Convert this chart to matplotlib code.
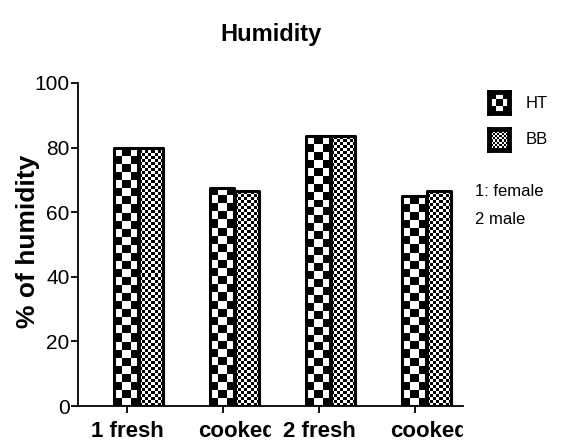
import numpy as np
import matplotlib
matplotlib.use('Agg')
import matplotlib.pyplot as plt
import matplotlib.transforms as mtransforms
from matplotlib import font_manager

groups = ['1 fresh', 'cooked', '2 fresh', 'cooked']
ht = [79.8, 67.5, 83.5, 65.0]
bb = [80.0, 66.5, 83.5, 66.5]
series = ['HT', 'BB']
note = ['1: female', '2 male']
yticks = [0, 20, 40, 60, 80, 100]

names = {f.name for f in font_manager.fontManager.ttflist}
narrow = 'Liberation Sans Narrow' in names
thin_font = 'Liberation Sans Narrow' if narrow else 'Liberation Sans'
plt.rcParams['font.family'] = ['Liberation Sans', 'DejaVu Sans']

W, H = 564, 443
fig = plt.figure(figsize=(W / 100, H / 100), dpi=100)
ax = fig.add_axes([78 / W, 1 - 406 / H, (463 - 78) / W, (406 - 83) / H])

x = np.arange(len(groups))
ax.set_xlim(-0.51, 3.5)
ax.set_ylim(0, 100)


def checker_fill(ax, bar, cell_px):
    x0, y0 = bar.get_x(), bar.get_y()
    w, h = bar.get_width(), bar.get_height()
    (px0, py0), (px1, py1) = ax.transData.transform([(x0, y0), (x0 + w, y0 + h)])
    nx = max(1, int(round((px1 - px0) / cell_px)))
    ny = max(1, int(round((py1 - py0) / cell_px)))
    board = np.indices((ny, nx)).sum(axis=0) % 2
    im = ax.imshow(board, cmap='gray', vmin=0, vmax=1, origin='lower',
                   extent=(x0, x0 + w, y0, y0 + h), aspect='auto',
                   interpolation='nearest', zorder=2)
    im.set_clip_path(bar)


width = 0.25
bars_ht = ax.bar(x - 0.013, ht, width, facecolor='none', edgecolor='black',
                 linewidth=2.2, joinstyle='round', zorder=3)
bars_bb = ax.bar(x + 0.253, bb, width, facecolor='none', edgecolor='black',
                 linewidth=2.2, joinstyle='round', zorder=3)
for b in bars_ht:
    checker_fill(ax, b, 8)
for b in bars_bb:
    checker_fill(ax, b, 3)
ax.set_xlim(-0.51, 3.5)
ax.set_ylim(0, 100)

for s in ['top', 'right']:
    ax.spines[s].set_visible(False)
for s in ['left', 'bottom']:
    ax.spines[s].set_linewidth(1.3)
ax.set_yticks(yticks)
ax.set_yticklabels([str(v) for v in yticks], family=thin_font,
                   fontsize=17 if narrow else 15)
ax.tick_params(axis='y', length=5, width=1.3, pad=1)
ax.set_xticks(x)
ax.set_xticklabels([])
ax.tick_params(axis='x', length=5, width=1.3)

# group labels under the axis; the "cooked" boxes cut off the text
base = mtransforms.blended_transform_factory(ax.transData, ax.transAxes)
for i, label in enumerate(groups):
    tx, _ = ax.transData.transform((x[i], 0))
    if label.startswith('cooked'):
        off = mtransforms.ScaledTranslation(-25 / 100, 0, fig.dpi_scale_trans)
        t = ax.text(x[i], -31 / 323, label, transform=base + off, ha='left',
                    va='baseline', fontsize=16, fontweight='bold', clip_on=True)
        t.set_clip_box(mtransforms.Bbox([[tx - 35, 0], [tx + 48, H]]))
    else:
        ax.text(x[i], -31 / 323, label, transform=base, ha='center',
                va='baseline', fontsize=16, fontweight='bold', clip_on=False)

fig.text(28 / W, 1 - 241 / H, '% of humidity', rotation=90, ha='center',
         va='center', fontsize=19, fontweight='bold')
fig.text(271 / W, 1 - 41 / H, 'Humidity', ha='center', va='baseline',
         fontsize=17, fontweight='bold')

# legend swatches
for name, top, cell in [(series[0], 92, 6), (series[1], 129, 2)]:
    lax = fig.add_axes([489 / W, 1 - (top + 21) / H, 20 / W, 21 / H])
    n = int(round(20 / cell))
    board = np.indices((n, n)).sum(axis=0) % 2
    lax.imshow(board, cmap='gray', vmin=0, vmax=1, aspect='auto',
               interpolation='nearest')
    lax.set_xticks([])
    lax.set_yticks([])
    for sp in lax.spines.values():
        sp.set_linewidth(3.5)
    fig.text(526 / W, 1 - (top + 11) / H, name, ha='left', va='center',
             family=thin_font, fontsize=14 if narrow else 12)

fig.text(475 / W, 1 - 192 / H, note[0], ha='left', va='center',
         family=thin_font, fontsize=14 if narrow else 12)
fig.text(475 / W, 1 - 220 / H, note[1], ha='left', va='center',
         family=thin_font, fontsize=14 if narrow else 12)

fig.savefig('out.png', dpi=100)
